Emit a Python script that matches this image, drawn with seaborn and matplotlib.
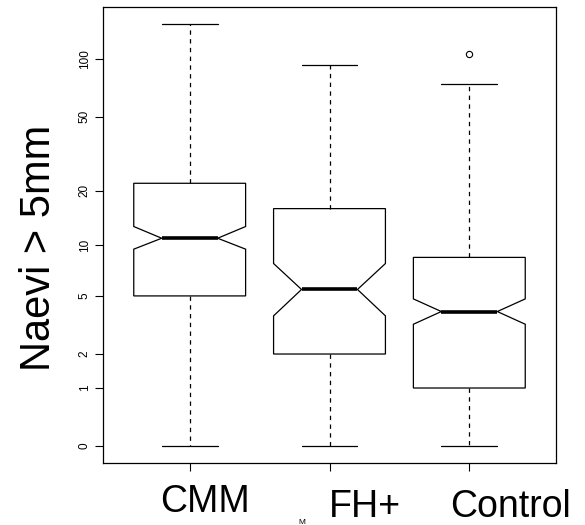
import numpy as np
import pandas as pd
import matplotlib
matplotlib.use("Agg")
import matplotlib.pyplot as plt
import seaborn as sns

# ---- data (y axis is a log(x+1) scale) ----
categories = ["CMM", "FH+", "Control"]
whisker_low = [0, 0, 0]
q1 = [5, 2, 1]
medians = [10.94, 5.48, 3.98]
q3 = [22, 16, 8.5]
whisker_high = [153, 93, 74]
notch_low = [9.48, 3.73, 3.28]
notch_high = [12.73, 7.83, 4.79]
outliers = [[], [], [107]]
y_ticks = [0, 1, 2, 5, 10, 20, 50, 100]
y_tick_labels = ["0", "1", "2", "5", "10", "20", "50", "100"]
y_label = "Naevi > 5mm"
footnote = "M"

sns.set_style("white")
plt.rcParams["font.family"] = ["Liberation Sans", "DejaVu Sans"]
plt.rcParams["ytick.alignment"] = "center"
plt.rcParams["text.color"] = "black"
plt.rcParams["xtick.color"] = "black"
plt.rcParams["ytick.color"] = "black"

# summary statistics for each box
stats = []
for i, c in enumerate(categories):
    stats.append(dict(label=c, whislo=whisker_low[i], q1=q1[i], med=medians[i],
                      q3=q3[i], whishi=whisker_high[i], cilo=notch_low[i],
                      cihi=notch_high[i], fliers=np.array(outliers[i], float)))

# long-form table so seaborn knows the categories
rows = []
for i, c in enumerate(categories):
    for v in [whisker_low[i], q1[i], medians[i], q3[i], whisker_high[i]] + outliers[i]:
        rows.append((c, v))
df = pd.DataFrame(rows, columns=["group", "value"])

W, H = 585, 525
fig = plt.figure(figsize=(W / 100, H / 100), dpi=100)
ax = fig.add_axes([103 / W, 62 / H, 453 / W, 456 / H])

sns.boxplot(data=df, x="group", y="value", order=categories, ax=ax,
            color="white", linecolor="black", linewidth=0.9, width=0.8,
            fliersize=4.5, bxpstats=stats, shownotches=True,
            whiskerprops=dict(linestyle=(0, (3.5, 3.5))),
            medianprops=dict(linewidth=2.6),
            flierprops=dict(marker="o", markerfacecolor="none", markeredgewidth=0.8))

ax.set_yscale("function", functions=(np.log1p, np.expm1))
all_vals = whisker_low + whisker_high + [v for o in outliers for v in o]
lo_t, hi_t = np.log1p(min(all_vals)), np.log1p(max(all_vals))
pad = 0.04 * (hi_t - lo_t)
ax.set_ylim(np.expm1(lo_t - pad), np.expm1(hi_t + pad))
n = len(categories)
ax.set_xlim(-0.5 - 0.04 * n, n - 0.5 + 0.04 * n)

ax.set_yticks(y_ticks)
ax.set_yticklabels(y_tick_labels, fontsize=8.5)
ax.set_xticks(range(n))
ax.set_xticklabels([""] * n)
ax.set_xlabel("")
ax.set_ylabel("")
ax.tick_params(axis="y", labelrotation=90, left=True, length=5.8, width=0.8,
               color="black", pad=3, labelcolor="black")
ax.tick_params(axis="x", bottom=True, length=5.8, width=0.8, color="black")
for s in ax.spines.values():
    s.set_visible(True)
    s.set_color("black")
    s.set_linewidth(0.9)

# category labels (offset from the ticks, as in the reference)
label_pos = [(204.5, 512), (365, 517), (510, 517)]
for c, (px, py) in zip(categories, label_pos):
    fig.text(px / W, 1 - py / H, c, fontsize=27, ha="center", va="baseline",
             color="black")

fig.text(50 / W, 1 - 248 / H, y_label, fontsize=30, rotation=90,
         rotation_mode="anchor", ha="center", va="baseline", color="black")
fig.text(302 / W, 1 - 518.5 / H, footnote, fontsize=6, ha="center", va="top",
         color="black")

fig.savefig("out.png", dpi=100)
